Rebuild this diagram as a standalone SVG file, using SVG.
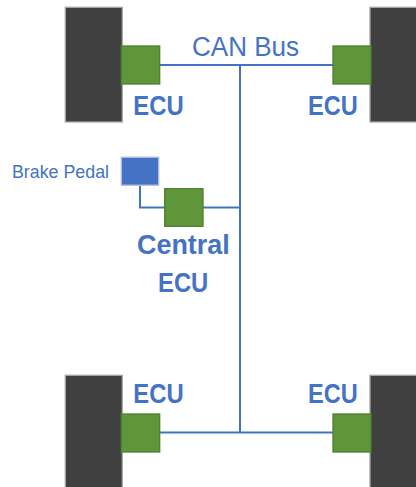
<svg xmlns="http://www.w3.org/2000/svg" width="416" height="487" viewBox="0 0 416 487">
<style>
.wheel{fill:#404040;stroke:#a6a6a6;stroke-width:1.3}
.ecu{fill:#5f9639;stroke:#4f7f30;stroke-width:1.3}
.pedal{fill:#4472c4;stroke:#b4c0d6;stroke-width:1.3}
.wire{fill:none;stroke:#4472c4;stroke-width:2}
.lbl{fill:#4472c4;font-family:"Liberation Sans",Arial,sans-serif}
.b{font-weight:bold;font-size:27px}
</style>
<rect width="416" height="487" fill="#ffffff"/>
<g id="connectors">
<polyline class="wire" points="160,65 334,65"/>
<polyline class="wire" points="240,65 240,432.5"/>
<polyline class="wire" points="160,432.5 334,432.5"/>
<polyline class="wire" points="203,207.5 240,207.5"/>
<polyline class="wire" points="140,185.5 140,207.5 165,207.5"/>
</g>
<g id="wheel-fl"><rect class="wheel" x="65.3" y="7.3" width="57" height="114.7"/></g>
<g id="wheel-fr"><rect class="wheel" x="370" y="7.3" width="57" height="114.7"/></g>
<g id="wheel-rl"><rect class="wheel" x="65.3" y="375.3" width="57" height="120"/></g>
<g id="wheel-rr"><rect class="wheel" x="370" y="375.3" width="57" height="120"/></g>
<g id="ecu-fl"><rect class="ecu" x="121.3" y="46" width="38.4" height="38"/><text class="lbl b" x="133.3" y="115" textLength="50.4" lengthAdjust="spacingAndGlyphs">ECU</text></g>
<g id="ecu-fr"><rect class="ecu" x="333" y="46" width="38" height="38"/><text class="lbl b" x="308" y="115" textLength="49.7" lengthAdjust="spacingAndGlyphs">ECU</text></g>
<g id="ecu-rl"><rect class="ecu" x="121.3" y="414" width="38.4" height="38"/><text class="lbl b" x="133.3" y="402.7" textLength="50.4" lengthAdjust="spacingAndGlyphs">ECU</text></g>
<g id="ecu-rr"><rect class="ecu" x="333" y="414" width="38" height="38"/><text class="lbl b" x="308" y="402.7" textLength="49.7" lengthAdjust="spacingAndGlyphs">ECU</text></g>
<g id="can-bus"><text class="lbl" x="192" y="56" font-size="27" textLength="107" lengthAdjust="spacingAndGlyphs">CAN Bus</text></g>
<g id="brake-pedal"><rect class="pedal" x="121.3" y="157.2" width="37.4" height="28"/><text class="lbl" x="12" y="178.3" font-size="18.5" textLength="97" lengthAdjust="spacingAndGlyphs">Brake Pedal</text></g>
<g id="central-ecu"><rect class="ecu" x="164.7" y="188.7" width="38.3" height="37.6"/><text class="lbl b" x="137" y="254.3" textLength="92.7" lengthAdjust="spacingAndGlyphs">Central</text><text class="lbl b" x="158" y="291.7" textLength="50.3" lengthAdjust="spacingAndGlyphs">ECU</text></g>
</svg>
